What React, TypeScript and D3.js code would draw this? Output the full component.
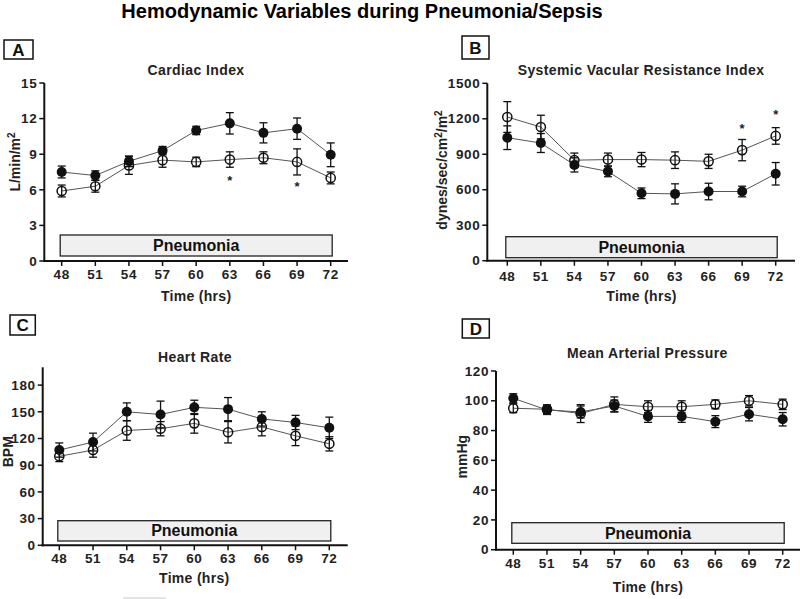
import React from "react";
import * as d3 from "d3";

// ---------- DATA ----------
const hours = [48, 51, 54, 57, 60, 63, 66, 69, 72];

const ciFilled = [7.5, 7.2, 8.4, 9.3, 11.0, 11.6, 10.8, 11.15, 8.95];
const ciFilledErr = [0.5, 0.4, 0.45, 0.35, 0.35, 0.9, 0.85, 0.9, 1.0];
const ciOpen = [5.9, 6.3, 8.05, 8.5, 8.35, 8.55, 8.7, 8.35, 7.0];
const ciOpenErr = [0.5, 0.5, 0.75, 0.6, 0.4, 0.65, 0.5, 1.1, 0.5];
const ciTicks = [0, 3, 6, 9, 12, 15];
const ciStarHours = [63, 69];
const ciStarValues = [6.9, 6.4];

const svriOpen = [1215, 1130, 850, 855, 855, 850, 840, 935, 1055];
const svriOpenErr = [130, 100, 60, 55, 60, 70, 60, 90, 70];
const svriFilled = [1040, 995, 810, 755, 570, 565, 585, 585, 735];
const svriFilledErr = [100, 80, 60, 45, 45, 85, 70, 45, 95];
const svriTicks = [0, 300, 600, 900, 1200, 1500];
const svriStarHours = [69, 72];
const svriStarValues = [1133, 1251];

const hrFilled = [107, 116, 150, 147, 155, 153, 142, 138, 132];
const hrFilledErr = [8, 10, 10, 15, 8, 13, 8, 8, 12];
const hrOpen = [100, 107, 129, 131, 137, 127, 133, 123, 114];
const hrOpenErr = [6, 8, 11, 8, 11, 12, 10, 11, 8];
const hrTicks = [0, 30, 60, 90, 120, 150, 180];

const mapFilled = [101.7, 93.8, 92.5, 96.5, 89.5, 89.5, 86, 91, 87.6];
const mapFilledErr = [3, 3, 4, 4, 4, 4, 4, 4.5, 4.5];
const mapOpen = [95, 94.3, 91.4, 97.6, 96, 96, 97.6, 100, 97.6];
const mapOpenErr = [3, 3, 6, 5, 4, 4, 3, 3.5, 3.5];
const mapTicks = [0, 20, 40, 60, 80, 100, 120];

const FONT = "'Liberation Sans', Arial, Helvetica, sans-serif";

type PanelProps = {
  letter: string;
  title: string;
  yLabel: React.ReactNode;
  filled: number[];
  filledErr: number[];
  open: number[];
  openErr: number[];
  ticks: number[];
  yMax: number;
  starHours?: number[];
  starValues?: number[];
  axX: number;
  yTop: number;
  yBottom: number;
  axEnd: number;
  x48: number;
  x72: number;
  titleX: number;
  titleY: number;
  box: [number, number, number, number];
  yLabX: number;
  yLabY: number;
  pneuTop: number;
  pneuBottom: number;
  tickY: number;
  xLabY: number;
};

function Panel(p: PanelProps) {
  const x = d3.scaleLinear().domain([48, 72]).range([p.x48, p.x72]);
  const y = d3.scaleLinear().domain([0, p.yMax]).range([p.yBottom, p.yTop]);
  const line = d3
    .line<number>()
    .x((_, i) => x(hours[i]))
    .y((d) => y(d));
  const cap = 4;
  const errBars = (vals: number[], errs: number[], key: string) =>
    vals.map((v, i) => {
      const cx = x(hours[i]);
      const y1 = y(v + errs[i]);
      const y2 = y(v - errs[i]);
      return (
        <g key={key + i} stroke="#111" strokeWidth={1.3}>
          <line x1={cx} x2={cx} y1={y1} y2={y2} />
          <line x1={cx - cap} x2={cx + cap} y1={y1} y2={y1} />
          <line x1={cx - cap} x2={cx + cap} y1={y2} y2={y2} />
        </g>
      );
    });
  return (
    <g fontFamily={FONT}>
      <rect x={p.box[0]} y={p.box[1]} width={p.box[2]} height={p.box[3]} fill="white" stroke="#111" strokeWidth={1.5} />
      <text x={p.box[0] + p.box[2] / 2} y={p.box[1] + p.box[3] / 2 + 6} textAnchor="middle" fontSize={17} fontWeight="bold" fill="#111">
        {p.letter}
      </text>
      <text x={p.titleX} y={p.titleY + 5} textAnchor="middle" fontSize={14} letterSpacing={0.4} fontWeight="bold" fill="#222">
        {p.title}
      </text>
      <rect
        x={x(48) - 1.5}
        y={p.pneuTop}
        width={x(72) - x(48) + 3}
        height={p.pneuBottom - p.pneuTop}
        fill="#f0f0f0"
        stroke="#222"
        strokeWidth={1.3}
      />
      <text x={(x(48) + x(72)) / 2} y={(p.pneuTop + p.pneuBottom) / 2 + 5.5} textAnchor="middle" fontSize={16} fontWeight="bold" fill="#111">
        Pneumonia
      </text>
      <line x1={p.axX} x2={p.axX} y1={p.yTop} y2={p.yBottom + 1} stroke="#111" strokeWidth={2} />
      <line x1={p.axX - 1} x2={p.axEnd} y1={p.yBottom} y2={p.yBottom} stroke="#111" strokeWidth={2} />
      {p.ticks.map((t) => (
        <g key={"yt" + t}>
          <line x1={p.axX - 5} x2={p.axX} y1={y(t)} y2={y(t)} stroke="#111" strokeWidth={1.5} />
          <text x={p.axX - 7} y={y(t) + 4.7} textAnchor="end" fontSize={13.5} letterSpacing={0.6} fontWeight="bold" fill="#222">
            {t}
          </text>
        </g>
      ))}
      {hours.map((h) => (
        <g key={"xt" + h}>
          <line x1={x(h)} x2={x(h)} y1={p.yBottom} y2={p.yBottom + 5} stroke="#111" strokeWidth={1.5} />
          <text x={x(h)} y={p.tickY + 4.7} textAnchor="middle" fontSize={13.5} letterSpacing={0.6} fontWeight="bold" fill="#222">
            {h}
          </text>
        </g>
      ))}
      <text x={(p.x48 + p.x72) / 2} y={p.xLabY + 5} textAnchor="middle" fontSize={14} letterSpacing={0.3} fontWeight="bold" fill="#222">
        Time (hrs)
      </text>
      <text
        transform={`translate(${p.yLabX + 5},${p.yLabY}) rotate(-90)`}
        textAnchor="middle"
        fontSize={14}
        fontWeight="bold"
        fill="#222"
      >
        {p.yLabel}
      </text>
      <path d={line(p.filled) || ""} fill="none" stroke="#555" strokeWidth={1} />
      <path d={line(p.open) || ""} fill="none" stroke="#555" strokeWidth={1} />
      {errBars(p.filled, p.filledErr, "fe")}
      {errBars(p.open, p.openErr, "oe")}
      {p.filled.map((v, i) => (
        <circle key={"fc" + i} cx={x(hours[i])} cy={y(v)} r={5} fill="#111" />
      ))}
      {p.open.map((v, i) => (
        <circle key={"oc" + i} cx={x(hours[i])} cy={y(v)} r={4.6} fill="none" stroke="#111" strokeWidth={1.5} />
      ))}
      {(p.starHours || []).map((h, i) => (
        <text key={"st" + i} x={x(h)} y={y((p.starValues || [])[i]) + 6} textAnchor="middle" fontSize={13} fontWeight="bold" fill="#222">
          *
        </text>
      ))}
    </g>
  );
}

export default function App() {
  return (
    <svg width={800} height={599} style={{ position: "absolute", left: 0, top: 0, background: "white" }}>
      <rect width={800} height={599} fill="white" />
      <text x={362} y={17.5} textAnchor="middle" fontFamily={FONT} fontSize={20} fontWeight="bold" fill="#000">
        Hemodynamic Variables during Pneumonia/Sepsis
      </text>
      <Panel
        letter="A"
        title="Cardiac Index"
        yLabel={
          <>
            L/min/m<tspan dy={-5} fontSize={10}>2</tspan>
          </>
        }
        filled={ciFilled}
        filledErr={ciFilledErr}
        open={ciOpen}
        openErr={ciOpenErr}
        ticks={ciTicks}
        yMax={15}
        starHours={ciStarHours}
        starValues={ciStarValues}
        axX={44.3}
        yTop={83}
        yBottom={261}
        axEnd={348}
        x48={61.7}
        x72={330.7}
        titleX={196}
        titleY={70}
        box={[4, 40, 29, 19]}
        yLabX={15}
        yLabY={162}
        pneuTop={235}
        pneuBottom={256}
        tickY={274}
        xLabY={296}
      />
      <Panel
        letter="B"
        title="Systemic Vacular Resistance Index"
        yLabel={
          <>
            dynes/sec/cm<tspan dy={-5} fontSize={10}>2</tspan>
            <tspan dy={5}>/m</tspan>
            <tspan dy={-5} fontSize={10}>2</tspan>
          </>
        }
        filled={svriFilled}
        filledErr={svriFilledErr}
        open={svriOpen}
        openErr={svriOpenErr}
        ticks={svriTicks}
        yMax={1500}
        starHours={svriStarHours}
        starValues={svriStarValues}
        axX={487.3}
        yTop={83.3}
        yBottom={260.7}
        axEnd={795}
        x48={507.3}
        x72={775.7}
        titleX={641}
        titleY={70}
        box={[462, 36, 27, 23]}
        yLabX={441.7}
        yLabY={170}
        pneuTop={236.7}
        pneuBottom={257.7}
        tickY={276}
        xLabY={296}
      />
      <Panel
        letter="C"
        title="Heart Rate"
        yLabel="BPM"
        filled={hrFilled}
        filledErr={hrFilledErr}
        open={hrOpen}
        openErr={hrOpenErr}
        ticks={hrTicks}
        yMax={200}
        axX={42.7}
        yTop={367.3}
        yBottom={545.3}
        axEnd={347.7}
        x48={59.3}
        x72={329.3}
        titleX={195}
        titleY={356.7}
        box={[10, 315, 25.3, 20]}
        yLabX={8}
        yLabY={451.7}
        pneuTop={520.7}
        pneuBottom={541}
        tickY={558.3}
        xLabY={577.7}
      />
      <Panel
        letter="D"
        title="Mean Arterial Pressure"
        yLabel="mmHg"
        filled={mapFilled}
        filledErr={mapFilledErr}
        open={mapOpen}
        openErr={mapOpenErr}
        ticks={mapTicks}
        yMax={120}
        axX={496}
        yTop={371}
        yBottom={549.7}
        axEnd={800}
        x48={513.3}
        x72={782.7}
        titleX={647.3}
        titleY={353.3}
        box={[462.3, 319, 27, 19]}
        yLabX={461.7}
        yLabY={456.7}
        pneuTop={522.7}
        pneuBottom={543.3}
        tickY={563.3}
        xLabY={586.7}
      />
      <line x1={123} x2={166} y1={598} y2={598} stroke="#ddd" strokeWidth={1.5} />
    </svg>
  );
}
